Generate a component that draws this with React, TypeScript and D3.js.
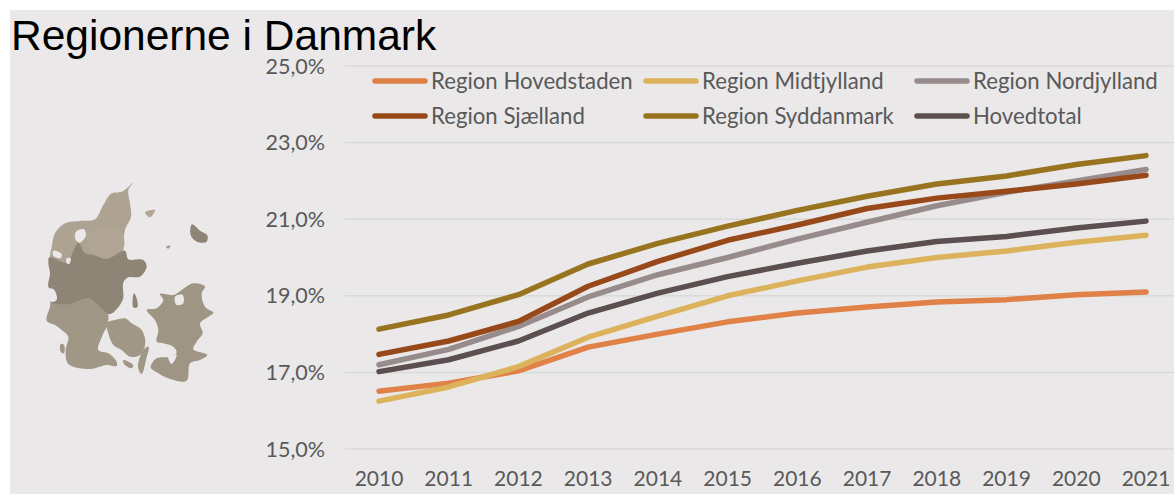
import React from "react";
import * as d3 from "d3";

const years = [2010, 2011, 2012, 2013, 2014, 2015, 2016, 2017, 2018, 2019, 2020, 2021];
const yTicks = [15, 17, 19, 21, 23, 25];
const hovedstaden = [16.51, 16.72, 17.04, 17.66, 18.0, 18.32, 18.55, 18.71, 18.84, 18.9, 19.03, 19.1];
const midtjylland = [16.25, 16.62, 17.15, 17.92, 18.47, 19.0, 19.39, 19.75, 20.0, 20.17, 20.4, 20.58];
const nordjylland = [17.2, 17.6, 18.2, 18.97, 19.55, 20.0, 20.48, 20.92, 21.35, 21.7, 22.0, 22.3];
const sjaelland = [17.47, 17.82, 18.33, 19.25, 19.9, 20.45, 20.85, 21.28, 21.55, 21.73, 21.92, 22.15];
const syddanmark = [18.13, 18.5, 19.03, 19.83, 20.37, 20.82, 21.23, 21.6, 21.92, 22.13, 22.43, 22.66];
const hovedtotal = [17.02, 17.33, 17.82, 18.55, 19.07, 19.5, 19.85, 20.17, 20.42, 20.55, 20.77, 20.95];

const series = [
  { name: "Region Hovedstaden", values: hovedstaden, color: "#e08148", lx: 375, ly: 81 },
  { name: "Region Midtjylland", values: midtjylland, color: "#dcb35c", lx: 646, ly: 81 },
  { name: "Region Nordjylland", values: nordjylland, color: "#978b8b", lx: 917, ly: 81 },
  { name: "Region Sjælland", values: sjaelland, color: "#98491a", lx: 375, ly: 116 },
  { name: "Region Syddanmark", values: syddanmark, color: "#987421", lx: 646, ly: 116 },
  { name: "Hovedtotal", values: hovedtotal, color: "#5b4f50", lx: 917, ly: 116 },
];
const drawOrder = [0, 1, 2, 5, 3, 4];

type P = [number, number];
const nordOutline: P[] = [[400,68],[385,90],[390,130],[393,170],[375,210],[370,270],[380,330],[300,340],[200,340],[150,320],[150,290],[155,262],[165,220],[195,190],[240,183],[285,178],[310,135],[335,100],[365,95]];
const himmerlandOutline: P[] = [[262,222],[300,205],[350,205],[370,225],[368,270],[320,295],[285,280],[265,262]];
const sydOutline: P[] = [[160,400],[290,400],[325,465],[320,500],[308,525],[295,570],[325,580],[350,605],[350,618],[320,615],[270,627],[205,612],[197,570],[205,530],[185,510],[165,495],[140,482],[150,440]];
const midtOutline: P[] = [[148,292],[200,308],[215,285],[235,248],[255,280],[280,285],[320,297],[375,272],[385,298],[430,300],[440,320],[420,350],[385,352],[370,368],[368,420],[330,462],[300,440],[265,415],[210,432],[170,432],[150,425],[160,395],[145,380],[150,340],[145,310]];
const fynOutline: P[] = [[345,480],[375,475],[395,490],[425,510],[436,550],[420,585],[390,590],[365,570],[340,555],[325,520],[320,490]];
const langelandOutline: P[] = [[446,560],[438,600],[425,642],[414,620],[430,570]];
const aeroOutline: P[] = [[370,600],[400,615],[395,625],[372,612]];
const romoOutline: P[] = [[182,552],[192,555],[192,580],[182,575]];
const samsoOutline: P[] = [[402,400],[410,415],[412,442],[400,442],[398,420]];
const sjaellandOutline: P[] = [[580,370],[615,380],[605,400],[615,440],[640,458],[625,470],[600,490],[608,520],[590,545],[580,568],[622,585],[600,600],[570,610],[560,662],[510,657],[470,637],[452,622],[470,595],[510,590],[530,578],[520,560],[490,550],[470,545],[475,510],[465,480],[440,450],[470,445],[490,420],[480,402],[520,405],[545,390]];
const bornholmOutline: P[] = [[576,193],[600,212],[622,226],[620,245],[592,246],[572,225]];
const laesoOutline: P[] = [[435,157],[465,150],[450,172]];
const anholtOutline: P[] = [[498,260],[512,257],[505,266]];
const landParts: { pts: P[]; fill: string }[] = [
  { pts: nordOutline, fill: "#aea292" },
  { pts: himmerlandOutline, fill: "#b1a596" },
  { pts: sydOutline, fill: "#a19787" },
  { pts: midtOutline, fill: "#8f8577" },
  { pts: fynOutline, fill: "#a19787" },
  { pts: langelandOutline, fill: "#a19787" },
  { pts: aeroOutline, fill: "#a19787" },
  { pts: romoOutline, fill: "#a19787" },
  { pts: samsoOutline, fill: "#8f8577" },
  { pts: sjaellandOutline, fill: "#9e9585" },
  { pts: bornholmOutline, fill: "#8f8577" },
  { pts: laesoOutline, fill: "#b1a595" },
  { pts: anholtOutline, fill: "#a19787" },
];
const holes: P[][] = [
  [[150,385],[163,390],[170,420],[152,425]],
  [[160,272],[185,282],[182,294],[160,288]],
  [[228,215],[252,208],[258,225],[240,248],[226,238]],
  [[200,295],[212,295],[208,312],[200,310]],
  [[525,410],[548,405],[550,430],[530,435]],
  [[505,590],[530,585],[515,612]],
];

const W = 1174, H = 494;
const x = d3.scalePoint<number>().domain(years).range([379, 1146]);
const y = d3.scaleLinear().domain([15, 25]).range([449, 66]);
const line = d3
  .line<number>()
  .x((_, i) => x(years[i]) as number)
  .y((d) => y(d));
const blob = d3.line<P>().curve(d3.curveCatmullRomClosed.alpha(0.5));
const fmt = (v: number) => v.toFixed(1).replace(".", ",") + "%";
const labelFont = "Lato, Carlito, sans-serif";

export default function App() {
  return (
    <svg width={W} height={H} style={{ position: "absolute", left: 0, top: 0, display: "block" }}>
      <rect width={W} height={H} fill="#fff" />
      <rect x={10} y={10} width={W - 10} height={H - 10} fill="#eae8e9" />
      <text x={11} y={50} fontFamily="'Liberation Sans', Arial, sans-serif" fontSize={42.5} fill="#000">
        Regionerne i Danmark
      </text>
      <g transform="translate(0,160) scale(0.3333)">
        {landParts.map((p, i) => (
          <path key={i} d={blob(p.pts) as string} fill={p.fill} />
        ))}
        {holes.map((p, i) => (
          <path key={i} d={blob(p) as string} fill="#eae8e9" />
        ))}
      </g>
      {yTicks.map((t) => (
        <g key={t}>
          <line x1={345} x2={W} y1={y(t)} y2={y(t)} stroke="#dad9d9" strokeWidth={1.5} />
          <text x={325} y={y(t) + 7.5} textAnchor="end" fontFamily={labelFont} fontSize={21.5} fill="#595959">
            {fmt(t)}
          </text>
        </g>
      ))}
      {years.map((yr) => (
        <text key={yr} x={x(yr) as number} y={486} textAnchor="middle" fontFamily={labelFont} fontSize={21} fill="#595959">
          {yr}
        </text>
      ))}
      {drawOrder.map((i) => (
        <path key={i} d={line(series[i].values) as string} fill="none" stroke={series[i].color} strokeWidth={5.5} strokeLinecap="round" strokeLinejoin="round" />
      ))}
      {series.map((s) => (
        <g key={s.name}>
          <line x1={s.lx} x2={s.lx + 50} y1={s.ly} y2={s.ly} stroke={s.color} strokeWidth={5.5} strokeLinecap="round" />
          <text x={s.lx + 56} y={s.ly + 7.5} fontFamily={labelFont} fontSize={22.2} fill="#595959">
            {s.name}
          </text>
        </g>
      ))}
    </svg>
  );
}
